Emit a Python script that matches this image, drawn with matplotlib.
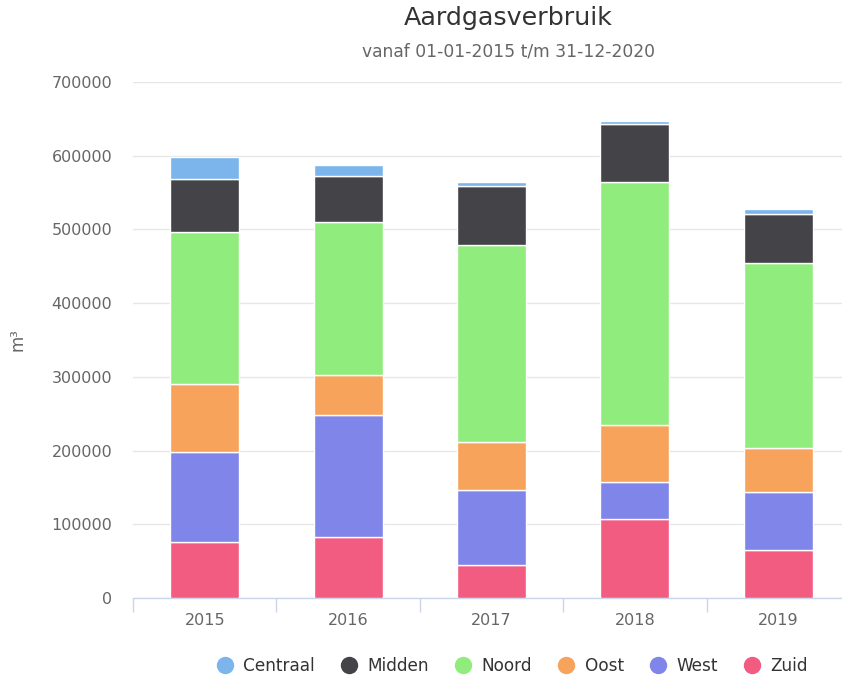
import matplotlib
matplotlib.use("Agg")
import matplotlib.pyplot as plt
from matplotlib.lines import Line2D
import numpy as np

years = ["2015", "2016", "2017", "2018", "2019"]
series_names = ["Centraal", "Midden", "Noord", "Oost", "West", "Zuid"]
zuid = [76000, 83000, 45000, 107000, 64500]
west = [122000, 165000, 101000, 50000, 79500]
oost = [92000, 55000, 65500, 77500, 60000]
noord = [207000, 207500, 268000, 329500, 251000]
midden = [71500, 62000, 80000, 79000, 65500]
centraal = [29500, 15500, 5000, 3500, 7000]
colors = {"Centraal": "#7cb5ec", "Midden": "#434348", "Noord": "#90ed7d",
          "Oost": "#f7a35c", "West": "#8085e9", "Zuid": "#f15c80"}

plt.rcParams['font.family'] = ['DejaVu Sans']

W, H = 842, 676
fig = plt.figure(figsize=(W / 100, H / 100), dpi=100)
left, right, top, bottom = 133, 850, 82, 598
ax = fig.add_axes([left / W, 1 - bottom / H, (right - left) / W, (bottom - top) / H])

x = np.arange(len(years))
stack_order = [("Zuid", zuid), ("West", west), ("Oost", oost),
               ("Noord", noord), ("Midden", midden), ("Centraal", centraal)]
base = np.zeros(len(years))
for name, vals in stack_order:
    v = np.array(vals, dtype=float)
    ax.bar(x, v, bottom=base, width=0.48, color=colors[name],
           edgecolor="white", linewidth=1.0, zorder=3)
    base += v

ax.set_xlim(-0.5, len(years) - 0.5)
ax.set_ylim(0, 700000)
ax.set_yticks(np.arange(0, 700001, 100000))
ax.set_yticklabels([str(v) for v in range(0, 700001, 100000)])
ax.yaxis.grid(True, color="#e6e6e6", linewidth=1, zorder=0)
ax.set_axisbelow(True)

ax.set_xticks(x)
ax.set_xticklabels(years)
ax.set_xticks(np.arange(-0.5, len(years), 1.0), minor=True)
ax.tick_params(axis="x", which="major", length=0, pad=10.5, labelsize=11.5, labelcolor="#666666")
ax.tick_params(axis="x", which="minor", length=10, width=1, color="#ccd6eb")
ax.tick_params(axis="y", length=0, pad=15, labelsize=11.5, labelcolor="#666666")

for s in ["top", "right", "left"]:
    ax.spines[s].set_visible(False)
ax.spines["bottom"].set_color("#ccd6eb")
ax.spines["bottom"].set_linewidth(1)

fig.text(18 / W, 1 - 340 / H, "m³", rotation=90, ha="center", va="center",
         color="#666666", fontsize=12)
fig.text(508 / W, 1 - 18.5 / H, "Aardgasverbruik", ha="center", va="center",
         color="#333333", fontsize=18.3)
fig.text(508 / W, 1 - 52 / H, "vanaf 01-01-2015 t/m 31-12-2020", ha="center",
         va="center", color="#666666", fontsize=12.3)

handles = [Line2D([0], [0], marker="o", linestyle="none", markersize=11.5,
                  markerfacecolor=colors[n], markeredgecolor=colors[n]) for n in series_names]
fig.legend(handles, series_names, loc="center", bbox_to_anchor=(512 / W, 1 - 666 / H),
           ncol=6, frameon=False, fontsize=12.2, labelcolor="#333333",
           handlelength=1.0, handletextpad=0.6, columnspacing=1.5, borderpad=0)

fig.savefig("out.png", dpi=100)
